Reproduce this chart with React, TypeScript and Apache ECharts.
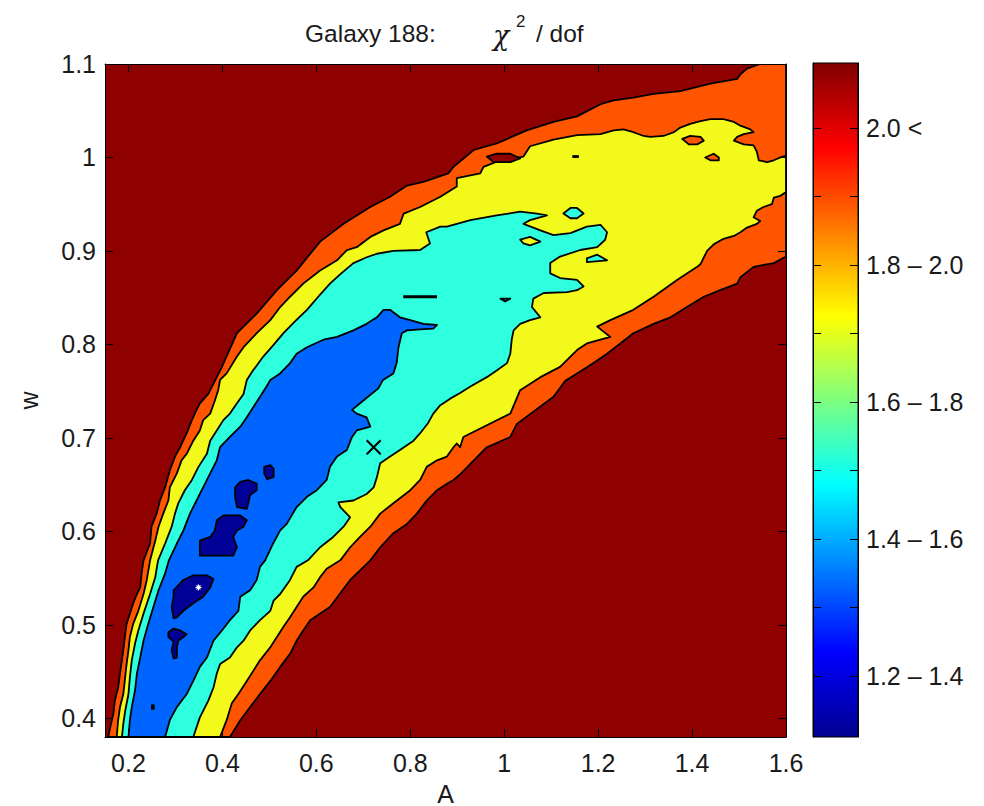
import React, { useEffect, useRef } from 'react';
import * as echarts from 'echarts';

// ---- axes ---------------------------------------------------------------
const A_RANGE = [0.15, 1.6];
const W_RANGE = [0.38, 1.1];
const A_TICKS = [0.2, 0.4, 0.6, 0.8, 1, 1.2, 1.4, 1.6];
const W_TICKS = [0.4, 0.5, 0.6, 0.7, 0.8, 0.9, 1, 1.1];

// ---- colour bar ---------------------------------------------------------
const CBAR_RANGE = [1.111, 2.095];
const CBAR_TICKS = [1.2, 1.3, 1.4, 1.5, 1.6, 1.7, 1.8, 1.9, 2.0];
const CBAR_LABEL_VALUES = [1.2, 1.4, 1.6, 1.8, 2.0];
const CBAR_LABELS = ['1.2 – 1.4', '1.4 – 1.6', '1.6 – 1.8', '1.8 – 2.0', '2.0 <'];

// ---- filled contour regions, [A, w] outlines ----------------------------
// chi2/dof < 2.0
const LEVEL_20 = [
  [0.157, 0.38], [0.161, 0.39], [0.168, 0.405], [0.171, 0.419], [0.178, 0.433], [0.182, 0.448],
  [0.186, 0.462], [0.189, 0.473], [0.193, 0.49], [0.196, 0.501], [0.203, 0.512], [0.21, 0.523],
  [0.218, 0.533], [0.225, 0.54], [0.228, 0.555], [0.232, 0.569], [0.246, 0.587], [0.249, 0.605],
  [0.26, 0.619], [0.267, 0.633], [0.278, 0.647], [0.288, 0.665], [0.299, 0.68], [0.31, 0.69],
  [0.324, 0.705], [0.335, 0.719], [0.345, 0.73], [0.352, 0.737], [0.37, 0.747], [0.381, 0.758],
  [0.399, 0.776], [0.431, 0.812], [0.473, 0.833], [0.516, 0.858], [0.558, 0.879], [0.608, 0.91],
  [0.658, 0.929], [0.715, 0.947], [0.757, 0.958], [0.793, 0.97], [0.828, 0.974], [0.881, 0.983],
  [0.892, 0.99], [0.935, 1.008], [0.984, 1.015], [1.048, 1.029], [1.105, 1.038], [1.155, 1.044],
  [1.205, 1.057], [1.233, 1.061], [1.275, 1.064], [1.318, 1.068], [1.375, 1.071], [1.439, 1.079],
  [1.496, 1.084], [1.503, 1.089], [1.517, 1.095], [1.545, 1.1], [1.6, 1.1], [1.6, 0.894],
  [1.574, 0.887], [1.531, 0.883], [1.503, 0.872], [1.496, 0.865], [1.46, 0.858], [1.425, 0.851],
  [1.389, 0.84], [1.354, 0.829], [1.318, 0.822], [1.275, 0.812], [1.247, 0.801], [1.219, 0.79],
  [1.19, 0.78], [1.155, 0.769], [1.13, 0.761], [1.105, 0.744], [1.027, 0.715], [1.013, 0.701],
  [0.963, 0.69], [0.906, 0.661], [0.892, 0.655], [0.878, 0.651], [0.857, 0.644], [0.835, 0.633],
  [0.814, 0.619], [0.793, 0.608], [0.764, 0.598], [0.736, 0.583], [0.715, 0.569], [0.672, 0.548],
  [0.629, 0.519], [0.608, 0.512], [0.587, 0.505], [0.572, 0.494], [0.558, 0.483], [0.544, 0.469],
  [0.523, 0.455], [0.502, 0.44], [0.48, 0.426], [0.459, 0.412], [0.438, 0.398], [0.416, 0.38],
];

// chi2/dof < 1.8
const LEVEL_18 = [
  [0.175, 0.38], [0.178, 0.398], [0.182, 0.412], [0.189, 0.426], [0.193, 0.444], [0.196, 0.458],
  [0.2, 0.473], [0.203, 0.487], [0.21, 0.501], [0.221, 0.515], [0.232, 0.533], [0.239, 0.548],
  [0.246, 0.569], [0.257, 0.59], [0.264, 0.605], [0.274, 0.619], [0.285, 0.633], [0.288, 0.647],
  [0.303, 0.662], [0.313, 0.676], [0.324, 0.683], [0.338, 0.697], [0.352, 0.708], [0.359, 0.719],
  [0.374, 0.726], [0.384, 0.74], [0.391, 0.751], [0.395, 0.762], [0.409, 0.769], [0.431, 0.787],
  [0.445, 0.797], [0.473, 0.812], [0.502, 0.826], [0.523, 0.84], [0.544, 0.851], [0.572, 0.865],
  [0.608, 0.879], [0.644, 0.89], [0.665, 0.901], [0.686, 0.904], [0.715, 0.915], [0.743, 0.922],
  [0.778, 0.929], [0.786, 0.94], [0.821, 0.947], [0.864, 0.958], [0.899, 0.969], [0.899, 0.978],
  [0.949, 0.983], [0.956, 0.99], [0.992, 0.997], [1.041, 1.001], [1.055, 1.012], [1.105, 1.019],
  [1.155, 1.024], [1.205, 1.025], [1.233, 1.029], [1.254, 1.03], [1.275, 1.027], [1.297, 1.023],
  [1.311, 1.022], [1.339, 1.023], [1.361, 1.027], [1.375, 1.032], [1.396, 1.036], [1.418, 1.039],
  [1.439, 1.041], [1.467, 1.041], [1.489, 1.038], [1.503, 1.034], [1.524, 1.03], [1.531, 1.027],
  [1.51, 1.025], [1.496, 1.022], [1.489, 1.018], [1.51, 1.014], [1.531, 1.013], [1.538, 1.006],
  [1.542, 0.997], [1.56, 0.995], [1.574, 0.997], [1.588, 1.0], [1.6, 1.002], [1.6, 0.963],
  [1.588, 0.959], [1.574, 0.957], [1.57, 0.95], [1.552, 0.947], [1.538, 0.943], [1.531, 0.936],
  [1.545, 0.932], [1.538, 0.929], [1.517, 0.925], [1.503, 0.92], [1.489, 0.916], [1.467, 0.913],
  [1.446, 0.907], [1.432, 0.9], [1.425, 0.893], [1.418, 0.886], [1.411, 0.883], [1.368, 0.869],
  [1.318, 0.851], [1.275, 0.837], [1.226, 0.826], [1.198, 0.819], [1.226, 0.808], [1.176, 0.801],
  [1.155, 0.794], [1.119, 0.776], [1.077, 0.765], [1.034, 0.751], [1.013, 0.726], [0.913, 0.701],
  [0.906, 0.69], [0.899, 0.694], [0.892, 0.69], [0.878, 0.68], [0.857, 0.676], [0.835, 0.669],
  [0.821, 0.655], [0.8, 0.644], [0.764, 0.63], [0.736, 0.619], [0.715, 0.605], [0.693, 0.594],
  [0.672, 0.583], [0.651, 0.569], [0.622, 0.56], [0.608, 0.551], [0.594, 0.54], [0.572, 0.53],
  [0.558, 0.519], [0.544, 0.508], [0.53, 0.498], [0.516, 0.487], [0.502, 0.476], [0.48, 0.462],
  [0.466, 0.451], [0.452, 0.44], [0.434, 0.426], [0.42, 0.416], [0.409, 0.398], [0.395, 0.38],
];

// chi2/dof < 1.6
const LEVEL_16 = [
  [0.186, 0.38], [0.189, 0.394], [0.193, 0.408], [0.2, 0.426], [0.203, 0.444], [0.207, 0.462],
  [0.214, 0.48], [0.221, 0.494], [0.232, 0.512], [0.246, 0.533], [0.257, 0.551], [0.263, 0.569],
  [0.278, 0.587], [0.292, 0.605], [0.299, 0.619], [0.306, 0.63], [0.32, 0.644], [0.335, 0.655],
  [0.349, 0.669], [0.367, 0.683], [0.374, 0.697], [0.388, 0.708], [0.402, 0.719], [0.416, 0.726],
  [0.431, 0.737], [0.445, 0.747], [0.452, 0.762], [0.465, 0.772], [0.487, 0.787], [0.508, 0.799],
  [0.53, 0.812], [0.555, 0.825], [0.58, 0.837], [0.604, 0.851], [0.629, 0.865], [0.653, 0.876],
  [0.679, 0.887], [0.706, 0.893], [0.729, 0.897], [0.764, 0.9], [0.821, 0.901], [0.842, 0.908],
  [0.834, 0.92], [0.864, 0.926], [0.878, 0.926], [0.928, 0.933], [0.984, 0.938], [1.034, 0.942],
  [1.07, 0.94], [1.091, 0.938], [1.055, 0.933], [1.041, 0.929], [1.077, 0.922], [1.105, 0.917],
  [1.141, 0.919], [1.176, 0.926], [1.205, 0.928], [1.219, 0.92], [1.215, 0.912], [1.198, 0.904],
  [1.162, 0.901], [1.119, 0.894], [1.098, 0.887], [1.098, 0.876], [1.119, 0.871], [1.155, 0.869],
  [1.169, 0.862], [1.155, 0.858], [1.134, 0.856], [1.084, 0.855], [1.062, 0.849], [1.059, 0.84],
  [1.077, 0.829], [1.055, 0.826], [1.034, 0.822], [1.02, 0.815], [1.016, 0.805], [1.013, 0.79],
  [1.006, 0.78], [0.984, 0.772], [0.963, 0.765], [0.928, 0.755], [0.906, 0.748], [0.885, 0.742],
  [0.864, 0.735], [0.849, 0.726], [0.838, 0.716], [0.821, 0.705], [0.807, 0.697], [0.778, 0.687],
  [0.757, 0.68], [0.736, 0.673], [0.729, 0.658], [0.722, 0.647], [0.707, 0.64], [0.679, 0.633],
  [0.647, 0.631], [0.651, 0.626], [0.672, 0.615], [0.658, 0.605], [0.636, 0.594], [0.608, 0.583],
  [0.582, 0.569], [0.558, 0.562], [0.551, 0.555], [0.544, 0.548], [0.523, 0.533], [0.509, 0.526],
  [0.502, 0.515], [0.48, 0.505], [0.459, 0.494], [0.445, 0.483], [0.431, 0.476], [0.416, 0.465],
  [0.395, 0.458], [0.388, 0.448], [0.381, 0.433], [0.37, 0.419], [0.352, 0.401], [0.338, 0.38],
];

// chi2/dof < 1.4
const LEVEL_14 = [
  [0.2, 0.38], [0.203, 0.398], [0.207, 0.412], [0.214, 0.43], [0.218, 0.448], [0.225, 0.465],
  [0.232, 0.483], [0.242, 0.501], [0.253, 0.519], [0.264, 0.537], [0.278, 0.555], [0.286, 0.569],
  [0.303, 0.587], [0.317, 0.601], [0.331, 0.619], [0.345, 0.633], [0.359, 0.647], [0.374, 0.662],
  [0.388, 0.676], [0.395, 0.69], [0.416, 0.701], [0.438, 0.712], [0.452, 0.722], [0.466, 0.733],
  [0.48, 0.744], [0.494, 0.755], [0.502, 0.762], [0.523, 0.769], [0.544, 0.78], [0.558, 0.79],
  [0.58, 0.797], [0.615, 0.805], [0.644, 0.808], [0.679, 0.815], [0.707, 0.822], [0.729, 0.829],
  [0.743, 0.837], [0.757, 0.837], [0.778, 0.829], [0.8, 0.826], [0.828, 0.822], [0.857, 0.821],
  [0.849, 0.817], [0.821, 0.816], [0.793, 0.815], [0.782, 0.812], [0.775, 0.797], [0.771, 0.78],
  [0.764, 0.769], [0.742, 0.762], [0.732, 0.753], [0.71, 0.744], [0.693, 0.737], [0.676, 0.73],
  [0.686, 0.726], [0.707, 0.722], [0.715, 0.712], [0.686, 0.708], [0.676, 0.701], [0.665, 0.687],
  [0.644, 0.68], [0.629, 0.669], [0.622, 0.655], [0.601, 0.644], [0.58, 0.637], [0.558, 0.626],
  [0.537, 0.608], [0.523, 0.601], [0.506, 0.585], [0.491, 0.569], [0.48, 0.562], [0.473, 0.548],
  [0.459, 0.537], [0.438, 0.53], [0.434, 0.515], [0.416, 0.505], [0.399, 0.494], [0.381, 0.483],
  [0.367, 0.465], [0.352, 0.455], [0.338, 0.44], [0.324, 0.426], [0.303, 0.412], [0.288, 0.398],
  [0.278, 0.38],
];

// chi2/dof < 1.2 pockets
const LEVEL_12 = [
  [[0.296, 0.537], [0.317, 0.548], [0.338, 0.553], [0.367, 0.553], [0.381, 0.549], [0.374, 0.54],
    [0.359, 0.53], [0.338, 0.523], [0.317, 0.515], [0.303, 0.508], [0.296, 0.507], [0.292, 0.519],
    [0.296, 0.53]],
  [[0.285, 0.492], [0.296, 0.496], [0.31, 0.494], [0.324, 0.49], [0.317, 0.487], [0.306, 0.483],
    [0.303, 0.476], [0.303, 0.465], [0.296, 0.464], [0.292, 0.473], [0.296, 0.482], [0.285, 0.487]],
  [[0.352, 0.59], [0.374, 0.594], [0.384, 0.601], [0.388, 0.612], [0.402, 0.617], [0.438, 0.617],
    [0.452, 0.612], [0.445, 0.605], [0.431, 0.601], [0.423, 0.594], [0.431, 0.583], [0.423, 0.574],
    [0.402, 0.574], [0.352, 0.574]],
  [[0.427, 0.647], [0.438, 0.653], [0.455, 0.655], [0.473, 0.651], [0.473, 0.644], [0.459, 0.639],
    [0.455, 0.63], [0.452, 0.624], [0.431, 0.626], [0.427, 0.637]],
  [[0.489, 0.669], [0.502, 0.671], [0.509, 0.667], [0.509, 0.658], [0.495, 0.656], [0.489, 0.662]],
  [[0.25, 0.41], [0.254, 0.41], [0.254, 0.414], [0.25, 0.414]],
];

// small enclosed pockets
const POCKETS_ABOVE_20 = [
  [[0.963, 1.001], [0.984, 1.004], [1.013, 1.004], [1.034, 0.999], [1.013, 0.995], [0.977, 0.995]],
];
const POCKETS_ABOVE_18 = [
  [[1.379, 1.02], [1.396, 1.023], [1.418, 1.022], [1.425, 1.018], [1.411, 1.014], [1.393, 1.014]],
  [[1.428, 1.0], [1.446, 1.004], [1.457, 1.0], [1.457, 0.997], [1.439, 0.997]],
];
const POCKETS_ABOVE_16 = [
  [[1.034, 0.912], [1.055, 0.915], [1.077, 0.91], [1.055, 0.906], [1.041, 0.908]],
];
const ISLES_BELOW_16 = [
  [[1.126, 0.94], [1.141, 0.946], [1.155, 0.946], [1.169, 0.94], [1.155, 0.935], [1.141, 0.935]],
  [[1.176, 0.892], [1.198, 0.896], [1.219, 0.89], [1.176, 0.888]],
];
const ISLES_BELOW_14 = [
  [[0.992, 0.849], [1.013, 0.849], [1.002, 0.846]],
];
// degenerate (zero-width) contours
const CONTOUR_DASHES = [
  [[0.785, 0.851], [0.857, 0.851]],
  [[1.145, 1.001], [1.159, 1.001]],
];

// markers: best fit (×) and grid minimum (white star)
const BEST_FIT = [0.722, 0.69];
const GRID_MIN = [0.349, 0.54];

// ---- styling ------------------------------------------------------------
const FONT = '"Liberation Sans", Arial, Helvetica, sans-serif';
const TEXT = '#1a1a1a';
const COLORS = {
  above20: '#8F0000',
  lt20: '#FF5500',
  lt18: '#F2F91B',
  lt16: '#2EFFDF',
  lt14: '#0064FF',
  lt12: '#000096',
};
const JET_STOPS = [
  { offset: 0, color: '#800000' },
  { offset: 0.125, color: '#FF0000' },
  { offset: 0.375, color: '#FFFF00' },
  { offset: 0.625, color: '#00FFFF' },
  { offset: 0.875, color: '#0000FF' },
  { offset: 1, color: '#00008F' },
];
const CONTOUR_WIDTH = 1.8;

function regionSeries(rings: number[][][], fill: string, z: number) {
  return {
    type: 'custom',
    coordinateSystem: 'cartesian2d',
    xAxisIndex: 0,
    yAxisIndex: 0,
    silent: true,
    clip: true,
    z,
    data: rings.map((r) => r[0]),
    renderItem: (params: any, api: any) => {
      const ring = rings[params.dataIndex];
      return {
        type: 'polygon',
        shape: { points: ring.map((p) => api.coord(p)) },
        style: { fill, stroke: '#000', lineWidth: CONTOUR_WIDTH, lineJoin: 'round' },
      };
    },
  };
}

function frameAxis(extra: any) {
  return {
    type: 'value',
    z: 20,
    splitLine: { show: false },
    axisLine: { show: true, onZero: false, lineStyle: { color: '#000', width: 1 } },
    ...extra,
  };
}

export default function App() {
  const ref = useRef<HTMLDivElement>(null);

  useEffect(() => {
    if (!ref.current) return;
    const chart = echarts.init(ref.current, null, { renderer: 'svg' });

    const labelStyle = { fontFamily: FONT, fontSize: 25, color: TEXT };

    const option: any = {
      animation: false,
      backgroundColor: '#ffffff',
      grid: [
        { left: 105, top: 64, width: 681, height: 673, show: true, backgroundColor: COLORS.above20, borderWidth: 0, outerBoundsMode: 'none' },
        { left: 813, top: 63, width: 45, height: 674, show: false, outerBoundsMode: 'none' },
      ],
      xAxis: [
        frameAxis({
          gridIndex: 0, position: 'bottom', min: A_RANGE[0], max: A_RANGE[1],
          axisTick: { show: true, inside: true, length: 8, customValues: A_TICKS, lineStyle: { color: '#000' } },
          axisLabel: { customValues: A_TICKS, margin: 13, ...labelStyle },
          name: 'A', nameLocation: 'middle', nameGap: 44,
          nameTextStyle: { ...labelStyle },
        }),
        frameAxis({
          gridIndex: 0, position: 'top', min: A_RANGE[0], max: A_RANGE[1],
          axisTick: { show: true, inside: true, length: 8, customValues: A_TICKS, lineStyle: { color: '#000' } },
          axisLabel: { show: false },
        }),
        { type: 'value', gridIndex: 1, min: 0, max: 1, show: false },
      ],
      yAxis: [
        frameAxis({
          gridIndex: 0, position: 'left', min: W_RANGE[0], max: W_RANGE[1],
          axisTick: { show: true, inside: true, length: 8, customValues: W_TICKS, lineStyle: { color: '#000' } },
          axisLabel: { customValues: W_TICKS, margin: 9, ...labelStyle },
          name: 'w', nameLocation: 'middle', nameGap: 64,
          nameTextStyle: { ...labelStyle },
        }),
        frameAxis({
          gridIndex: 0, position: 'right', min: W_RANGE[0], max: W_RANGE[1],
          axisTick: { show: true, inside: true, length: 8, customValues: W_TICKS, lineStyle: { color: '#000' } },
          axisLabel: { show: false },
        }),
        frameAxis({
          gridIndex: 1, position: 'right', min: CBAR_RANGE[0], max: CBAR_RANGE[1],
          axisTick: { show: true, inside: true, length: 8, customValues: CBAR_TICKS, lineStyle: { color: '#000' } },
          axisLabel: {
            customValues: CBAR_LABEL_VALUES, margin: 8, ...labelStyle,
            formatter: (v: number) => {
              const i = CBAR_LABEL_VALUES.findIndex((c) => Math.abs(c - v) < 1e-6);
              return i >= 0 ? CBAR_LABELS[i] : '';
            },
          },
        }),
        frameAxis({
          gridIndex: 1, position: 'left', min: CBAR_RANGE[0], max: CBAR_RANGE[1],
          axisTick: { show: true, inside: true, length: 8, customValues: CBAR_TICKS, lineStyle: { color: '#000' } },
          axisLabel: { show: false },
        }),
      ],
      graphic: [
        { type: 'text', x: 305, y: 33, style: { text: 'Galaxy 188:', font: `24.5px ${FONT}`, fill: TEXT, verticalAlign: 'middle', textVerticalAlign: 'middle' } },
        { type: 'text', x: 493, y: 35, style: { text: 'χ', font: `italic 27px "DejaVu Serif", serif`, fill: TEXT, verticalAlign: 'middle', textVerticalAlign: 'middle' } },
        { type: 'text', x: 516, y: 21, style: { text: '2', font: `17px ${FONT}`, fill: TEXT, verticalAlign: 'middle', textVerticalAlign: 'middle' } },
        { type: 'text', x: 536, y: 33, style: { text: '/ dof', font: `24.5px ${FONT}`, fill: TEXT, verticalAlign: 'middle', textVerticalAlign: 'middle' } },
      ],
      series: [
        regionSeries([LEVEL_20], COLORS.lt20, 2),
        regionSeries([LEVEL_18], COLORS.lt18, 3),
        regionSeries(POCKETS_ABOVE_20, COLORS.above20, 4),
        regionSeries(POCKETS_ABOVE_18, COLORS.lt20, 4),
        regionSeries([LEVEL_16, ...ISLES_BELOW_16], COLORS.lt16, 5),
        regionSeries(POCKETS_ABOVE_16, COLORS.lt18, 6),
        regionSeries([LEVEL_14, ...ISLES_BELOW_14], COLORS.lt14, 7),
        regionSeries(LEVEL_12, COLORS.lt12, 8),
        {
          type: 'custom', coordinateSystem: 'cartesian2d', xAxisIndex: 0, yAxisIndex: 0, silent: true, z: 9,
          data: CONTOUR_DASHES.map((d) => d[0]),
          renderItem: (params: any, api: any) => {
            const seg = CONTOUR_DASHES[params.dataIndex];
            const a = api.coord(seg[0]);
            const b = api.coord(seg[1]);
            return { type: 'line', shape: { x1: a[0], y1: a[1], x2: b[0], y2: b[1] }, style: { stroke: '#000', lineWidth: 2.8 } };
          },
        },
        {
          type: 'custom', coordinateSystem: 'cartesian2d', xAxisIndex: 0, yAxisIndex: 0, silent: true, z: 10,
          data: [BEST_FIT],
          renderItem: (params: any, api: any) => {
            const c = api.coord([api.value(0), api.value(1)]);
            const r = 7;
            return {
              type: 'group',
              children: [
                { type: 'line', shape: { x1: c[0] - r, y1: c[1] - r, x2: c[0] + r, y2: c[1] + r }, style: { stroke: '#000', lineWidth: 2 } },
                { type: 'line', shape: { x1: c[0] - r, y1: c[1] + r, x2: c[0] + r, y2: c[1] - r }, style: { stroke: '#000', lineWidth: 2 } },
              ],
            };
          },
        },
        {
          type: 'custom', coordinateSystem: 'cartesian2d', xAxisIndex: 0, yAxisIndex: 0, silent: true, z: 10,
          data: [GRID_MIN],
          renderItem: (params: any, api: any) => {
            const c = api.coord([api.value(0), api.value(1)]);
            const r = 3;
            const s = { stroke: '#ffffff', lineWidth: 1.2 };
            return {
              type: 'group',
              children: [
                { type: 'line', shape: { x1: c[0] - r, y1: c[1], x2: c[0] + r, y2: c[1] }, style: s },
                { type: 'line', shape: { x1: c[0], y1: c[1] - r, x2: c[0], y2: c[1] + r }, style: s },
                { type: 'line', shape: { x1: c[0] - 2, y1: c[1] - 2, x2: c[0] + 2, y2: c[1] + 2 }, style: s },
                { type: 'line', shape: { x1: c[0] - 2, y1: c[1] + 2, x2: c[0] + 2, y2: c[1] - 2 }, style: s },
              ],
            };
          },
        },
        {
          type: 'custom', coordinateSystem: 'cartesian2d', xAxisIndex: 2, yAxisIndex: 2, silent: true, z: 2,
          data: [[0, CBAR_RANGE[0]]],
          renderItem: (params: any, api: any) => {
            const tl = api.coord([0, CBAR_RANGE[1]]);
            const br = api.coord([1, CBAR_RANGE[0]]);
            return {
              type: 'rect',
              shape: { x: tl[0], y: tl[1], width: br[0] - tl[0], height: br[1] - tl[1] },
              style: { fill: new echarts.graphic.LinearGradient(0, 0, 0, 1, JET_STOPS), stroke: '#000', lineWidth: 1 },
            };
          },
        },
      ],
    };

    chart.setOption(option);
    return () => chart.dispose();
  }, []);

  return (
    <div
      ref={ref}
      style={{ position: 'fixed', left: 0, top: 0, width: 984, height: 806, background: '#fff' }}
    />
  );
}
